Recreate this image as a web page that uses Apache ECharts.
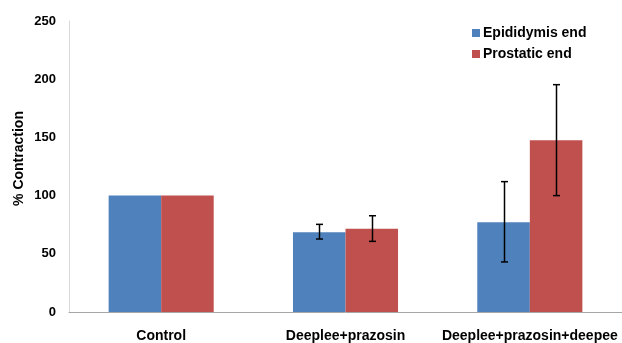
<!DOCTYPE html>
<html><head><meta charset="utf-8">
<script src="https://cdn.jsdelivr.net/npm/echarts@6/dist/echarts.min.js"></script>
<style>html,body{margin:0;padding:0;background:#fff}#c{width:622px;height:343px}</style>
</head><body><div id="c"></div>
<script>
const categories = ['Control', 'Deeplee+prazosin', 'Deeplee+prazosin+deepee'];
const epididymis = [100, 68.5, 77];
const prostatic = [100, 71.5, 147.5];
const epididymisErrLow = [null, 62.7, 43];
const epididymisErrHigh = [null, 75.3, 112];
const prostaticErrLow = [null, 60.7, 100];
const prostaticErrHigh = [null, 82.7, 195.3];
const yTicks = [0, 50, 100, 150, 200, 250];

const BAR_FRAC = 0.285;
function errSeries(name, lows, highs, side) {
  return {
    type: 'custom', name: name + ' err', silent: true, z: 10,
    data: categories.map((c, i) => [i, lows[i], highs[i]]).filter(d => d[1] != null),
    encode: { x: 0, y: [1, 2] },
    renderItem: function (params, api) {
      const i = api.value(0);
      const lo = api.coord([i, api.value(1)]);
      const hi = api.coord([i, api.value(2)]);
      const cw = api.size([1, 0])[0];
      const bw = cw * BAR_FRAC;
      const x = Math.round(lo[0] + side * bw / 2) + 0.5;
      const cap = 3.5;
      const st = { stroke: '#000', lineWidth: 1.5 };
      return { type: 'group', children: [
        { type: 'line', shape: { x1: x, y1: lo[1], x2: x, y2: hi[1] }, style: st },
        { type: 'line', shape: { x1: x - cap, y1: lo[1], x2: x + cap, y2: lo[1] }, style: st },
        { type: 'line', shape: { x1: x - cap, y1: hi[1], x2: x + cap, y2: hi[1] }, style: st }
      ]};
    }
  };
}

const chart = echarts.init(document.getElementById('c'));
const font = 'Liberation Sans, Arial, sans-serif';
chart.setOption({
  animation: false,
  textStyle: { fontFamily: font },
  grid: { left: 69, right: -4, top: 21, bottom: 31, containLabel: false },
  legend: {
    orient: 'vertical', left: 467, top: 21, itemWidth: 8, itemHeight: 8, itemGap: 7,
    icon: 'rect',
    textStyle: { fontFamily: font, fontWeight: 'bold', fontSize: 14, color: '#000', padding: [0, 0, 0, -2] },
    data: ['Epididymis end', 'Prostatic end']
  },
  xAxis: {
    type: 'category', data: categories,
    axisLine: { lineStyle: { color: '#a6a6a6', width: 1 } },
    axisTick: { show: false },
    axisLabel: { color: '#000', fontWeight: 'bold', fontSize: 14, margin: 17, interval: 0, fontFamily: font }
  },
  yAxis: {
    type: 'value', min: 0, max: 250, interval: 50,
    name: '% Contraction', nameLocation: 'middle', nameGap: 43, nameRotate: 90, nameMoveOverlap: false,
    nameTextStyle: { color: '#000', fontWeight: 'bold', fontSize: 14, fontFamily: font, padding: [0, 0, 0, 16] },
    axisLine: { show: true, lineStyle: { color: '#d9d9d9', width: 1 } },
    axisTick: { show: false },
    splitLine: { show: false },
    axisLabel: { color: '#000', fontWeight: 'bold', fontSize: 13, margin: 13, fontFamily: font,
      formatter: v => yTicks.includes(v) ? String(v) : '' }
  },
  series: [
    { name: 'Epididymis end', type: 'bar', data: epididymis, barWidth: (BAR_FRAC * 100) + '%', barGap: '0%',
      itemStyle: { color: '#4f81bd' } },
    { name: 'Prostatic end', type: 'bar', data: prostatic, barWidth: (BAR_FRAC * 100) + '%', barGap: '0%',
      itemStyle: { color: '#c0504d' } },
    errSeries('Epididymis end', epididymisErrLow, epididymisErrHigh, -1),
    errSeries('Prostatic end', prostaticErrLow, prostaticErrHigh, 1)
  ]
});
</script></body></html>
